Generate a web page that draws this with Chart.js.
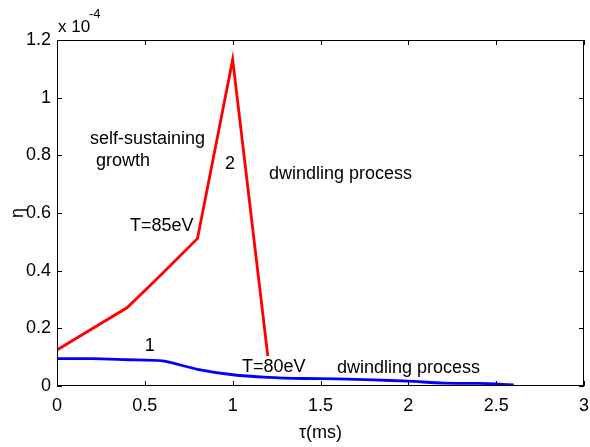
<!DOCTYPE html>
<html>
<head>
<meta charset="utf-8">
<script src="https://cdn.jsdelivr.net/npm/chart.js@4/dist/chart.umd.min.js"></script>
<style>
  html, body { margin: 0; padding: 0; background: #fff; }
  #wrap { width: 590px; height: 447px; position: relative; }
</style>
</head>
<body>
<div id="wrap"><canvas id="c" width="590" height="447"></canvas></div>
<script>
// Curve 2 (T = 85 eV): growth then collapse
const tau2 = [0, 0.4, 0.6, 0.8, 1.0, 1.2];
const eta2 = [0.125, 0.272, 0.39, 0.512, 1.132, 0.104];

// Curve 1 (T = 80 eV): slow decay
const tau1 = [0, 0.2, 0.4, 0.6, 0.8, 1.0, 1.2, 1.4, 1.6, 1.8, 2.0, 2.2, 2.4, 2.6];
const eta1 = [0.095, 0.095, 0.091, 0.087, 0.058, 0.039, 0.03, 0.026, 0.025, 0.021, 0.017, 0.01, 0.009, 0.004];

const xTicks = [0, 0.5, 1, 1.5, 2, 2.5, 3];
const yTicks = [0, 0.2, 0.4, 0.6, 0.8, 1, 1.2];

// Text notes placed in data coordinates [tau, eta, text]
const notes = [
  [0.188, 0.858, 'self-sustaining'],
  [0.222, 0.781, 'growth'],
  [0.956, 0.771, '2'],
  [1.207, 0.736, 'dwindling process'],
  [0.415, 0.556, 'T=85eV'],
  [0.50, 0.139, '1'],
  [1.053, 0.066, 'T=80eV'],
  [1.594, 0.0625, 'dwindling process']
];

const FONT = '"Liberation Sans", Arial, Helvetica, sans-serif';

const toPts = (xs, ys) => xs.map((x, i) => ({ x: x, y: ys[i] }));

const frame = {
  id: 'frame',
  afterDraw(chart) {
    const { ctx, chartArea: a, scales } = chart;
    const xs = scales.x, ys = scales.y;
    ctx.save();
    ctx.strokeStyle = '#000';
    ctx.lineWidth = 1;
    ctx.strokeRect(a.left + 0.5, a.top + 0.5, a.right - a.left - 1, a.bottom - a.top - 1);
    // inward ticks on all four sides
    ctx.beginPath();
    const tl = 5;
    xTicks.forEach(v => {
      const px = Math.round(xs.getPixelForValue(v)) + 0.5;
      ctx.moveTo(px, a.bottom); ctx.lineTo(px, a.bottom - tl);
      ctx.moveTo(px, a.top); ctx.lineTo(px, a.top + tl);
    });
    yTicks.forEach(v => {
      const py = Math.round(ys.getPixelForValue(v)) + 0.5;
      ctx.moveTo(a.left, py); ctx.lineTo(a.left + tl, py);
      ctx.moveTo(a.right, py); ctx.lineTo(a.right - tl, py);
    });
    ctx.stroke();

    // annotations
    ctx.fillStyle = '#000';
    ctx.font = '18px ' + FONT;
    ctx.textAlign = 'left';
    ctx.textBaseline = 'middle';
    notes.forEach(([x, y, t]) => {
      ctx.fillText(t, xs.getPixelForValue(x), ys.getPixelForValue(y));
    });

    // exponent marker
    ctx.font = '17px ' + FONT;
    ctx.textBaseline = 'alphabetic';
    ctx.fillText('x 10', 58, 32);
    ctx.font = '13px ' + FONT;
    ctx.fillText('-4', 89, 18);

    // axis titles
    ctx.font = '18px ' + FONT;
    ctx.textAlign = 'center';
    ctx.textBaseline = 'middle';
    ctx.fillText('\u03c4(ms)', (a.left + a.right) / 2, 433);
    ctx.save();
    ctx.translate(18, (a.top + a.bottom) / 2);
    ctx.rotate(-Math.PI / 2);
    ctx.fillText('\u03b7', 0, 0);
    ctx.restore();
    ctx.restore();
  }
};

new Chart(document.getElementById('c'), {
  type: 'line',
  data: {
    datasets: [
      {
        data: toPts(tau2, eta2),
        borderColor: '#ff0000',
        borderWidth: 2.8,
        pointRadius: 0,
        tension: 0,
        fill: false
      },
      {
        data: toPts(tau1, eta1),
        borderColor: '#0000ff',
        borderWidth: 2.8,
        pointRadius: 0,
        tension: 0.25,
        fill: false
      }
    ]
  },
  options: {
    responsive: false,
    animation: false,
    devicePixelRatio: 1,
    layout: { padding: { top: 40, right: 6, left: 0, bottom: 0 } },
    plugins: { legend: { display: false }, tooltip: { enabled: false } },
    scales: {
      x: {
        type: 'linear',
        min: 0, max: 3,
        afterFit(s) { s.height = 61; },
        afterBuildTicks(s) { s.ticks = xTicks.map(v => ({ value: v })); },
        grid: { display: true, drawOnChartArea: false, drawTicks: true, tickLength: 9, tickColor: 'rgba(0,0,0,0)', color: 'rgba(0,0,0,0)' },
        border: { display: false },
        ticks: {
          padding: 0,
          color: '#000',
          font: { family: FONT, size: 18 },
          callback: v => String(v)
        }
      },
      y: {
        type: 'linear',
        min: 0, max: 1.2,
        afterFit(s) { s.width = 57; },
        afterBuildTicks(s) { s.ticks = yTicks.map(v => ({ value: v })); },
        grid: { display: true, drawOnChartArea: false, drawTicks: true, tickLength: 6, tickColor: 'rgba(0,0,0,0)', color: 'rgba(0,0,0,0)' },
        border: { display: false },
        ticks: {
          padding: 0,
          color: '#000',
          font: { family: FONT, size: 18 },
          callback: v => String(v)
        }
      }
    }
  },
  plugins: [frame]
});
</script>
</body>
</html>
